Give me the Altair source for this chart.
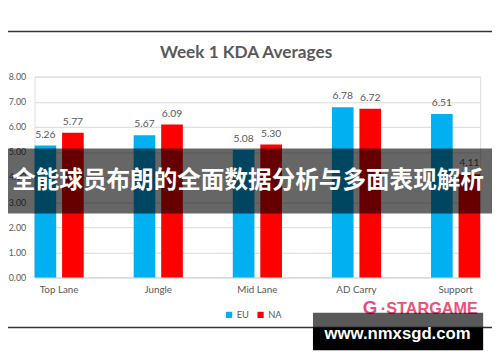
import altair as alt
import pandas as pd

categories = ["Top Lane", "Jungle", "Mid Lane", "AD Carry", "Support"]
regions = ["EU", "NA"]
eu_kda = [5.26, 5.67, 5.08, 6.78, 6.51]
na_kda = [5.77, 6.09, 5.30, 6.72, 4.11]
y_ticks = [0, 1, 2, 3, 4, 5, 6, 7, 8]

title_text = "Week 1 KDA Averages"
banner_text = "全能球员布朗的全面数据分析与多面表现解析"
watermark_text = "www.nmxsgd.com"
logo_text = "STARGAME"

rows = []
for c, e, n in zip(categories, eu_kda, na_kda):
    rows.append({"role": c, "region": "EU", "kda": e})
    rows.append({"role": c, "region": "NA", "kda": n})
df = pd.DataFrame(rows)
one = pd.DataFrame({"k": [0]})

FONT = "Lato"
GREY = "#595959"

base = alt.Chart(df).encode(
    x=alt.X("role:N", sort=categories,
            scale=alt.Scale(paddingInner=0.504, paddingOuter=0),
            axis=alt.Axis(title=None, labelAngle=0, labelFontSize=10, labelFont=FONT,
                          labelColor=GREY, ticks=False, domainColor="#d9d9d9",
                          labelPadding=7, grid=False)),
    xOffset=alt.XOffset("region:N", sort=regions, scale=alt.Scale(paddingInner=0.214, paddingOuter=0)),
    y=alt.Y("kda:Q", scale=alt.Scale(domain=[0, 8], nice=False),
            axis=alt.Axis(title=None, values=y_ticks, format=".2f", labelFontSize=9,
                          labelFont=FONT, labelColor=GREY, domain=False, ticks=False,
                          gridColor="#d9d9d9", labelPadding=9)),
)

bars = base.mark_bar().encode(
    color=alt.Color("region:N", sort=regions,
                    scale=alt.Scale(domain=regions, range=["#00B0F0", "#FF0000"]),
                    legend=alt.Legend(title=None, orient="none", direction="horizontal",
                                      legendX=193, legendY=237, padding=0,
                                      symbolType="square", symbolSize=40, symbolStrokeWidth=0,
                                      labelFont=FONT, labelFontSize=9.5, labelColor=GREY,
                                      labelOffset=3, columnPadding=7))
)

labels = base.mark_text(baseline="middle", dy=-11, fontSize=10.5, font=FONT, color=GREY).encode(
    text=alt.Text("kda:Q", format=".2f")
)

title = alt.Chart(one).mark_text(font=FONT, fontWeight="bold", fontSize=17.5, color=GREY,
                                 align="center", baseline="middle").encode(
    x=alt.value(215), y=alt.value(-24), text=alt.value(title_text)
)

border = alt.Chart(one).mark_rect(fill=None, stroke="#333333", strokeWidth=1.5).encode(
    x=alt.value(-37), x2=alt.value(467), y=alt.value(-46), y2=alt.value(255)
)

band = alt.Chart(one).mark_rect(color="black", opacity=0.6).encode(
    x=alt.value(-40), x2=alt.value(470), y=alt.value(73), y2=alt.value(139)
)

banner = alt.Chart(one).mark_text(font="Noto Sans CJK SC", fontWeight="bold", fontSize=24,
                                   color="white", align="center", baseline="middle").encode(
    x=alt.value(217), y=alt.value(106), text=alt.value(banner_text)
)

logo_g = alt.Chart(one).mark_text(font="Liberation Sans", fontWeight="bold", fontSize=19,
                                  color="#e8497a", align="center", baseline="middle").encode(
    x=alt.value(341), y=alt.value(235), text=alt.value("G")
)
logo = alt.Chart(one).mark_text(font="Liberation Sans", fontWeight="bold", fontSize=16.5,
                                color="#e8557a", align="left", baseline="middle").encode(
    x=alt.value(352), y=alt.value(236), text=alt.value("·" + logo_text)
)

wm_top = alt.Chart(one).mark_rect(color="black", opacity=0.65).encode(
    x=alt.value(283), x2=alt.value(456), y=alt.value(240), y2=alt.value(255)
)
wm_bot = alt.Chart(one).mark_rect(color="black").encode(
    x=alt.value(283), x2=alt.value(456), y=alt.value(255), y2=alt.value(278)
)
wm_text = alt.Chart(one).mark_text(font="Liberation Sans", fontWeight="bold", fontSize=17,
                                   color="white", align="center", baseline="middle").encode(
    x=alt.value(369), y=alt.value(262), text=alt.value(watermark_text)
)

chart = alt.layer(
    bars, labels, title, border, band, banner, logo_g, logo, wm_top, wm_bot, wm_text
).properties(
    width=453, height=204,
    autosize=alt.AutoSizeParams(type="none"),
    padding={"left": 27, "top": 67, "right": 12, "bottom": 72},
).configure_view(stroke=None).configure(background="white")

chart.save("out.html", embed_options={"renderer": "svg", "actions": False})
